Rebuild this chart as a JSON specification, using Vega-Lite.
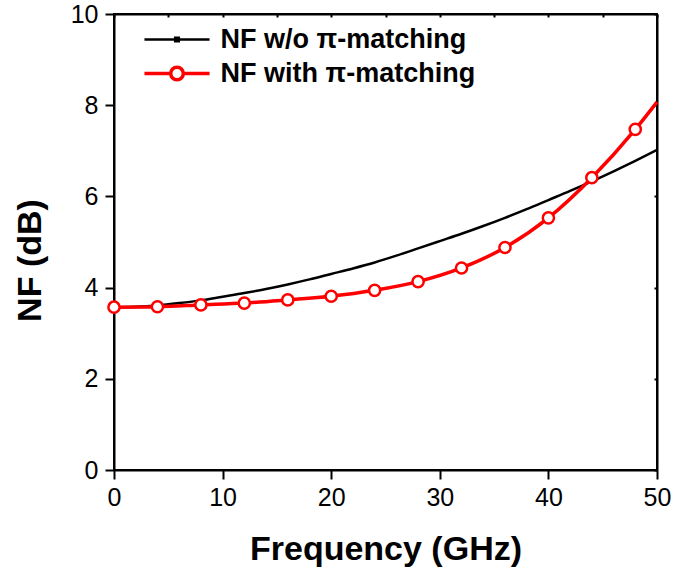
{
  "$schema": "https://vega.github.io/schema/vega-lite/v6.json",
  "width": 543,
  "height": 456,
  "autosize": {"type": "none"},
  "padding": {"left": 114, "top": 14, "right": 17, "bottom": 101},
  "background": "white",
  "config": {
    "font": "Liberation Sans",
    "view": {"stroke": "black", "strokeWidth": 2},
    "axis": {"grid": false, "domainColor": "black", "domainWidth": 2, "tickColor": "black", "tickWidth": 2, "labelColor": "black", "titleColor": "black"}
  },
  "datasets": {
    "wo": [
      {"f": 0, "nf": 3.57, "s": "NF w/o π-matching"},
      {"f": 2, "nf": 3.58, "s": "NF w/o π-matching"},
      {"f": 4, "nf": 3.61, "s": "NF w/o π-matching"},
      {"f": 6, "nf": 3.66, "s": "NF w/o π-matching"},
      {"f": 8, "nf": 3.72, "s": "NF w/o π-matching"},
      {"f": 10, "nf": 3.8, "s": "NF w/o π-matching"},
      {"f": 12, "nf": 3.88, "s": "NF w/o π-matching"},
      {"f": 14, "nf": 3.97, "s": "NF w/o π-matching"},
      {"f": 16, "nf": 4.07, "s": "NF w/o π-matching"},
      {"f": 18, "nf": 4.18, "s": "NF w/o π-matching"},
      {"f": 20, "nf": 4.3, "s": "NF w/o π-matching"},
      {"f": 22, "nf": 4.42, "s": "NF w/o π-matching"},
      {"f": 24, "nf": 4.55, "s": "NF w/o π-matching"},
      {"f": 26, "nf": 4.7, "s": "NF w/o π-matching"},
      {"f": 28, "nf": 4.86, "s": "NF w/o π-matching"},
      {"f": 30, "nf": 5.02, "s": "NF w/o π-matching"},
      {"f": 32, "nf": 5.18, "s": "NF w/o π-matching"},
      {"f": 34, "nf": 5.35, "s": "NF w/o π-matching"},
      {"f": 36, "nf": 5.53, "s": "NF w/o π-matching"},
      {"f": 38, "nf": 5.72, "s": "NF w/o π-matching"},
      {"f": 40, "nf": 5.92, "s": "NF w/o π-matching"},
      {"f": 42, "nf": 6.12, "s": "NF w/o π-matching"},
      {"f": 44, "nf": 6.33, "s": "NF w/o π-matching"},
      {"f": 46, "nf": 6.55, "s": "NF w/o π-matching"},
      {"f": 48, "nf": 6.78, "s": "NF w/o π-matching"},
      {"f": 50, "nf": 7.02, "s": "NF w/o π-matching"}
    ],
    "with": [
      {"f": 0, "nf": 3.57, "s": "NF with π-matching"},
      {"f": 4, "nf": 3.58, "s": "NF with π-matching"},
      {"f": 8, "nf": 3.62, "s": "NF with π-matching"},
      {"f": 12, "nf": 3.66, "s": "NF with π-matching"},
      {"f": 16, "nf": 3.73, "s": "NF with π-matching"},
      {"f": 20, "nf": 3.81, "s": "NF with π-matching"},
      {"f": 24, "nf": 3.94, "s": "NF with π-matching"},
      {"f": 28, "nf": 4.13, "s": "NF with π-matching"},
      {"f": 32, "nf": 4.43, "s": "NF with π-matching"},
      {"f": 36, "nf": 4.88, "s": "NF with π-matching"},
      {"f": 40, "nf": 5.53, "s": "NF with π-matching"},
      {"f": 44, "nf": 6.41, "s": "NF with π-matching"},
      {"f": 48, "nf": 7.47, "s": "NF with π-matching"},
      {"f": 50, "nf": 8.07, "s": "NF with π-matching"}
    ]
  },
  "layer": [
    {
      "data": {"name": "wo"},
      "mark": {"type": "line", "strokeWidth": 2.5, "interpolate": "monotone"},
      "encoding": {
        "x": {"field": "f", "type": "quantitative", "scale": {"domain": [0, 50], "nice": false},
          "axis": {"orient": "bottom", "title": "Frequency (GHz)", "values": [0, 10, 20, 30, 40, 50], "tickSize": 9,
            "labelFontSize": 25, "labelPadding": 6, "labelFlush": false, "labelOverlap": false,
            "titleFontSize": 34, "titleFontWeight": "bold", "titlePadding": 22}},
        "y": {"field": "nf", "type": "quantitative", "scale": {"domain": [0, 10], "nice": false},
          "axis": {"orient": "left", "title": "NF (dB)", "values": [0, 2, 4, 6, 8, 10], "tickSize": 9,
            "labelFontSize": 25, "labelPadding": 7, "labelFlush": false, "labelOverlap": false,
            "titleFontSize": 34, "titleFontWeight": "bold", "titlePadding": 23, "titleY": 246}},
        "color": {"field": "s", "type": "nominal",
          "scale": {"domain": ["NF w/o π-matching", "NF with π-matching"], "range": ["black", "#ff0000"]},
          "legend": {"orient": "none", "legendX": 49.5, "legendY": 12, "title": null, "padding": 0,
            "symbolSize": 900, "rowPadding": 6, "labelOffset": 30,
            "labelFontSize": 27, "labelFontWeight": "bold", "labelColor": "black", "labelLimit": 400,
            "encode": {"symbols": {"update": {
              "shape": {"signal": "datum.value === 'NF w/o π-matching' ? 'M-2.17,0H2.17M-0.12,-0.12H0.12V0.12H-0.12Z' : 'M-2.17,0H-0.42M0.42,0H2.17M-0.42,0A0.42,0.42 0 1,1 0.42,0A0.42,0.42 0 1,1 -0.42,0Z'"},
              "fill": {"signal": "datum.value === 'NF w/o π-matching' ? 'black' : 'white'"},
              "strokeWidth": {"signal": "datum.value === 'NF w/o π-matching' ? 2.5 : 3.5"},
              "opacity": {"value": 1}
            }}}}}
      }
    },
    {
      "data": {"name": "with"},
      "mark": {"type": "line", "strokeWidth": 3.5, "interpolate": "monotone"},
      "encoding": {
        "x": {"field": "f", "type": "quantitative",
          "axis": {"orient": "top", "title": null, "labels": false, "values": [0, 5, 10, 15, 20, 25, 30, 35, 40, 45, 50], "tickSize": -3}},
        "y": {"field": "nf", "type": "quantitative",
          "axis": {"orient": "right", "title": null, "labels": false, "values": [0, 2, 4, 6, 8, 10], "tickSize": -3}},
        "color": {"field": "s", "type": "nominal"}
      }
    },
    {
      "data": {"name": "with"},
      "transform": [{"filter": "datum.f <= 48"}],
      "mark": {"type": "point", "shape": "circle", "filled": true, "fill": "white", "stroke": "#ff0000", "strokeWidth": 2.5, "size": 125, "opacity": 1},
      "encoding": {
        "x": {"field": "f", "type": "quantitative", "axis": null},
        "y": {"field": "nf", "type": "quantitative", "axis": null}
      }
    }
  ]
}
